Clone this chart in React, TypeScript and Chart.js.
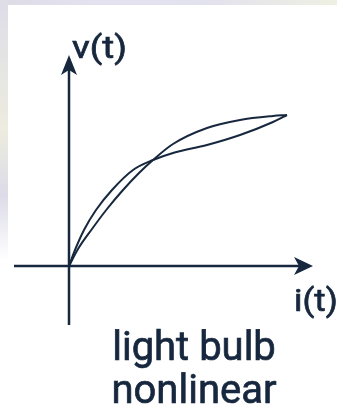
import React, { useEffect, useRef } from "react";
import { Chart, registerables } from "chart.js";

Chart.register(...registerables);

// Current i(t) and voltage v(t) along the two branches of the loop (units ~ arbitrary)
const branchAI = [0, 6, 15, 27, 43, 64, 84, 104, 138, 171, 204, 218];
const branchAV = [0, 16, 36, 56, 76, 96, 106, 113, 121, 131, 144, 151];
const branchBI = [0, 9, 23, 38, 54, 70, 84, 104, 138, 171, 204, 218];
const branchBV = [0, 17, 37, 57, 76, 93, 106, 122, 138, 146, 150, 151];

// Axis extents (data units)
const axisI = [-55, 244];
const axisV = [-59, 211];

const xLabel = "i(t)";
const yLabel = "v(t)";
const caption = ["light bulb", "nonlinear"];

const INK = "#17273e";
const FONT = "Roboto, 'Open Sans', sans-serif";

const bgPlugin = {
  id: "bg",
  beforeDraw(chart: any) {
    const { ctx, width, height } = chart;
    ctx.save();
    ctx.fillStyle = "#ffffff";
    ctx.fillRect(0, 0, width, height);
    const g = ctx.createLinearGradient(0, 0, width, 0);
    g.addColorStop(0, "#dcdce6");
    g.addColorStop(0.3, "#e4e2f0");
    g.addColorStop(0.6, "#e2e1ee");
    g.addColorStop(1, "#eef0e2");
    ctx.fillStyle = g;
    ctx.fillRect(0, 0, width, 5);
    const gv = ctx.createLinearGradient(0, 0, 0, 260);
    gv.addColorStop(0, "#dedde8");
    gv.addColorStop(0.5, "#ececdf");
    gv.addColorStop(0.75, "#dcdbe8");
    gv.addColorStop(1, "#ffffff");
    ctx.fillStyle = gv;
    ctx.fillRect(0, 0, 8, 260);
    ctx.restore();
  },
};

function drawText(ctx: any, text: string, x: number, y: number, sx: number) {
  ctx.save();
  ctx.translate(x, y);
  ctx.scale(sx, 1);
  ctx.fillText(text, 0, 0);
  ctx.lineWidth = 0.7;
  ctx.strokeText(text, 0, 0);
  ctx.restore();
}

const axesPlugin = {
  id: "axesArrows",
  afterDatasetsDraw(chart: any) {
    const { ctx } = chart;
    const xs = chart.scales.x;
    const ys = chart.scales.y;
    const x0 = xs.getPixelForValue(0);
    const y0 = ys.getPixelForValue(0);
    const xL = xs.getPixelForValue(axisI[0]);
    const xR = xs.getPixelForValue(axisI[1]);
    const yB = ys.getPixelForValue(axisV[0]);
    const yT = ys.getPixelForValue(axisV[1]);
    ctx.save();
    ctx.strokeStyle = INK;
    ctx.fillStyle = INK;
    ctx.lineWidth = 2.5;
    ctx.beginPath();
    ctx.moveTo(xL, y0);
    ctx.lineTo(xR - 12, y0);
    ctx.moveTo(x0, yB);
    ctx.lineTo(x0, yT + 12);
    ctx.stroke();
    // arrow right
    ctx.beginPath();
    ctx.moveTo(xR, y0);
    ctx.lineTo(xR - 19, y0 - 9);
    ctx.lineTo(xR - 14, y0);
    ctx.lineTo(xR - 19, y0 + 9);
    ctx.closePath();
    ctx.fill();
    // arrow up
    ctx.beginPath();
    ctx.moveTo(x0, yT);
    ctx.lineTo(x0 - 8, yT + 20);
    ctx.lineTo(x0, yT + 15);
    ctx.lineTo(x0 + 8, yT + 20);
    ctx.closePath();
    ctx.fill();

    ctx.font = `400 31px ${FONT}`;
    ctx.textAlign = "left";
    ctx.textBaseline = "alphabetic";
    drawText(ctx, yLabel, x0 + 3, 58, 1.18);
    drawText(ctx, xLabel, 294, 311, 1.12);
    ctx.font = `400 40px ${FONT}`;
    ctx.textAlign = "center";
    drawText(ctx, caption[0], 194, 360, 1);
    drawText(ctx, caption[1], 194, 403, 1);
    ctx.restore();
  },
};

export default function App() {
  const ref = useRef<HTMLCanvasElement | null>(null);
  useEffect(() => {
    if (!ref.current) return;
    const chart = new Chart(ref.current, {
      type: "scatter",
      data: {
        datasets: [
          {
            data: branchAI.map((x, i) => ({ x, y: branchAV[i] })),
            showLine: true,
            borderColor: INK,
            borderWidth: 2,
            pointRadius: 0,
            cubicInterpolationMode: "monotone",
          },
          {
            data: branchBI.map((x, i) => ({ x, y: branchBV[i] })),
            showLine: true,
            borderColor: INK,
            borderWidth: 2,
            pointRadius: 0,
            cubicInterpolationMode: "monotone",
          },
        ],
      },
      options: {
        animation: false,
        responsive: false,
        events: [],
        layout: { padding: { left: 14, right: 24, top: 55, bottom: 91 } },
        plugins: { legend: { display: false }, tooltip: { enabled: false }, title: { display: false } },
        scales: {
          x: { type: "linear", min: axisI[0], max: axisI[1], display: false },
          y: { type: "linear", min: axisV[0], max: axisV[1], display: false },
        },
      },
      plugins: [bgPlugin, axesPlugin],
    });
    return () => chart.destroy();
  }, []);
  return (
    <div style={{ position: "fixed", left: 0, top: 0, width: 337, height: 416, background: "#fff" }}>
      <canvas ref={ref} width={337} height={416} style={{ display: "block" }} />
    </div>
  );
}
